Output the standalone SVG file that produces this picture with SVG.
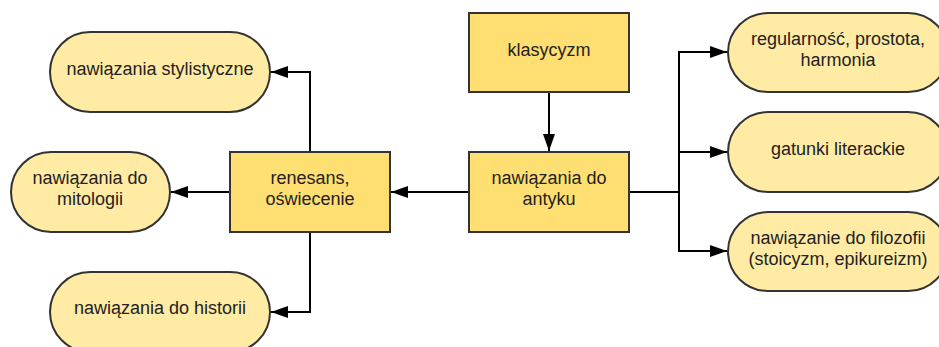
<svg xmlns="http://www.w3.org/2000/svg" width="939" height="347" viewBox="0 0 939 347">
<style>
.box{fill:#FFDF71;stroke:#333;stroke-width:2}
.pill{fill:#FFEBA3;stroke:#333;stroke-width:2}
text{font-family:"Liberation Sans",Arial,sans-serif;font-size:18px;fill:#222;text-anchor:middle}
.c{fill:none;stroke:#000;stroke-width:2}
</style>
<defs>
<marker id="a" viewBox="0 0 17 12" refX="17" refY="6" markerWidth="17" markerHeight="12" markerUnits="userSpaceOnUse" orient="auto">
<path d="M0,0 L17,6 L0,12 z" fill="#000"/>
</marker>
</defs>
<rect width="939" height="347" fill="#fff"/>
<g id="connectors">
<path class="c" d="M549,92 V151" marker-end="url(#a)"/>
<path class="c" d="M469,192 H391" marker-end="url(#a)"/>
<path class="c" d="M310,152 V72 H271" marker-end="url(#a)"/>
<path class="c" d="M230,192 H171" marker-end="url(#a)"/>
<path class="c" d="M310,232 V312 H271" marker-end="url(#a)"/>
<path class="c" d="M629,192 H679 V52 H727" marker-end="url(#a)"/>
<path class="c" d="M679,152 H727" marker-end="url(#a)"/>
<path class="c" d="M679,192 V251 H727" marker-end="url(#a)"/>
</g>
<g id="klasycyzm">
<rect class="box" x="469" y="13" width="160" height="79"/>
<text x="549" y="56">klasycyzm</text>
</g>
<g id="antyk">
<rect class="box" x="469" y="152" width="160" height="80"/>
<text x="549" y="184">nawiązania do</text>
<text x="549" y="205">antyku</text>
</g>
<g id="renesans">
<rect class="box" x="230" y="152" width="160" height="80"/>
<text x="310" y="184">renesans,</text>
<text x="310" y="205">oświecenie</text>
</g>
<g id="stylistyczne">
<rect class="pill" x="50" y="32" width="220" height="80" rx="40"/>
<text x="160" y="75">nawiązania stylistyczne</text>
</g>
<g id="mitologia">
<rect class="pill" x="11" y="152" width="159" height="80" rx="40"/>
<text x="90" y="184">nawiązania do</text>
<text x="90" y="205">mitologii</text>
</g>
<g id="historia">
<rect class="pill" x="50" y="272" width="220" height="80" rx="40"/>
<text x="160" y="314">nawiązania do historii</text>
</g>
<g id="regularnosc">
<rect class="pill" x="728" y="13" width="220" height="79" rx="40"/>
<text x="838" y="45">regularność, prostota,</text>
<text x="838" y="66">harmonia</text>
</g>
<g id="gatunki">
<rect class="pill" x="728" y="112" width="220" height="80" rx="40"/>
<text x="838" y="155">gatunki literackie</text>
</g>
<g id="filozofia">
<rect class="pill" x="728" y="212" width="220" height="79" rx="40"/>
<text x="838" y="244">nawiązanie do filozofii</text>
<text x="838" y="265">(stoicyzm, epikureizm)</text>
</g>
</svg>
